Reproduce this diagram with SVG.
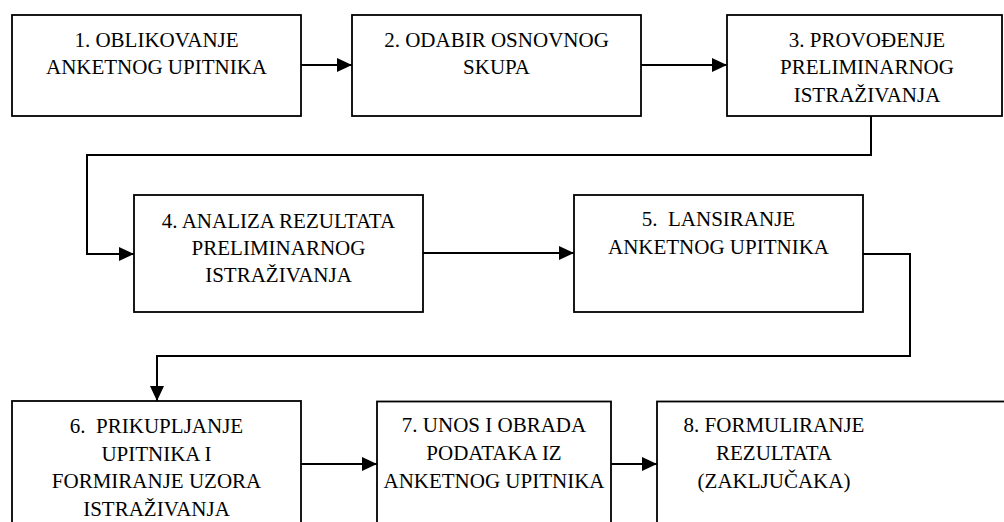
<svg xmlns="http://www.w3.org/2000/svg" width="1004" height="522" viewBox="0 0 1004 522">
<style>
.box{fill:#fff;stroke:#000;stroke-width:1.8}
.lbl{font-family:'Liberation Serif','DejaVu Serif',serif;font-size:21px;fill:#000;text-anchor:middle;white-space:pre}
.con{fill:none;stroke:#000;stroke-width:2}
</style>
<defs>
<marker id="ah" markerUnits="userSpaceOnUse" markerWidth="16" markerHeight="16" refX="15" refY="7" orient="auto">
<path d="M0,0 L15,7 L0,14 z" fill="#000"/>
</marker>
</defs>
<rect width="1004" height="522" fill="#fff"/>
<g id="connectors">
<path class="con" d="M301,65 H352" marker-end="url(#ah)"/>
<path class="con" d="M641,65 H727" marker-end="url(#ah)"/>
<path class="con" d="M871,116 V155 H87 V254 H134" marker-end="url(#ah)"/>
<path class="con" d="M423,253 H574" marker-end="url(#ah)"/>
<path class="con" d="M863,254 H910 V356 H157 V401" marker-end="url(#ah)"/>
<path class="con" d="M301,464 H377" marker-end="url(#ah)"/>
<path class="con" d="M611,464 H657" marker-end="url(#ah)"/>
</g>
<g id="node1">
<rect class="box" x="12" y="15" width="289" height="101"/>
<text class="lbl" x="156.5" y="47">1. OBLIKOVANJE</text>
<text class="lbl" x="156.5" y="74">ANKETNOG UPITNIKA</text>
</g>
<g id="node2">
<rect class="box" x="352" y="15" width="289" height="101"/>
<text class="lbl" x="496.5" y="47">2. ODABIR OSNOVNOG</text>
<text class="lbl" x="496.5" y="74">SKUPA</text>
</g>
<g id="node3">
<rect class="box" x="727" y="15" width="275" height="101"/>
<text class="lbl" x="867" y="47">3. PROVOĐENJE</text>
<text class="lbl" x="867" y="74">PRELIMINARNOG</text>
<text class="lbl" x="867" y="102">ISTRAŽIVANJA</text>
</g>
<g id="node4">
<rect class="box" x="134" y="195" width="289" height="117"/>
<text class="lbl" x="278.5" y="228">4. ANALIZA REZULTATA</text>
<text class="lbl" x="278.5" y="255">PRELIMINARNOG</text>
<text class="lbl" x="278.5" y="282">ISTRAŽIVANJA</text>
</g>
<g id="node5">
<rect class="box" x="574" y="195" width="289" height="117"/>
<text class="lbl" x="718.5" y="226">5.  LANSIRANJE</text>
<text class="lbl" x="718.5" y="254">ANKETNOG UPITNIKA</text>
</g>
<g id="node6">
<rect class="box" x="12" y="401" width="289" height="140"/>
<text class="lbl" x="156.5" y="433">6.  PRIKUPLJANJE</text>
<text class="lbl" x="156.5" y="461">UPITNIKA I</text>
<text class="lbl" x="156.5" y="488">FORMIRANJE UZORA</text>
<text class="lbl" x="156.5" y="516">ISTRAŽIVANJA</text>
</g>
<g id="node7">
<rect class="box" x="377" y="401.5" width="234" height="140"/>
<text class="lbl" x="494" y="432">7. UNOS I OBRADA</text>
<text class="lbl" x="494" y="460">PODATAKA IZ</text>
<text class="lbl" x="494" y="488">ANKETNOG UPITNIKA</text>
</g>
<g id="node8">
<rect class="box" x="657" y="401.5" width="400" height="140"/>
<text class="lbl" x="774" y="432">8. FORMULIRANJE</text>
<text class="lbl" x="774" y="460">REZULTATA</text>
<text class="lbl" x="774" y="488">(ZAKLJUČAKA)</text>
</g>
</svg>
